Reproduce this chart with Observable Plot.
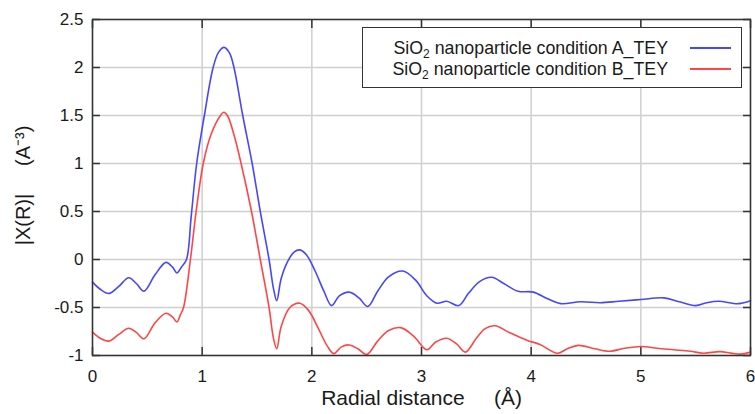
<!DOCTYPE html>
<html><head><meta charset="utf-8">
<script src="https://cdn.jsdelivr.net/npm/d3@7"></script>
<script src="https://cdn.jsdelivr.net/npm/@observablehq/plot@0.6"></script>
<style>
body{margin:0;background:#fff;font-family:"Liberation Sans",Arial,sans-serif;}
#wrap{position:relative;width:755px;height:414px;overflow:hidden;}
#legend{position:absolute;left:362px;top:27px;width:380px;height:61px;border:1.5px solid #333;background:#fff;box-sizing:border-box;font-size:17.8px;color:#1a1a1a;}
.row{position:absolute;right:10px;height:20px;display:flex;align-items:center;white-space:nowrap;}
.row span.sw{display:inline-block;width:41px;height:0;border-top:2px solid;margin-left:22px;}
sub{font-size:12px;vertical-align:-4px;line-height:0;}
</style></head>
<body><div id="wrap"></div>
<script>
const xTicks = [0, 1, 2, 3, 4, 5, 6];
const yTicks = [-1, -0.5, 0, 0.5, 1, 1.5, 2, 2.5];
const seriesNames = ["SiO2 nanoparticle condition A_TEY", "SiO2 nanoparticle condition B_TEY"];
const seriesColors = ["#4646ff", "#ff4646"];
const xA = [0,0.07,0.15,0.24,0.33,0.40,0.47,0.57,0.67,0.73,0.77,0.81,0.857,0.90,0.95,1.02,1.10,1.15,1.20,1.25,1.29,1.37,1.456,1.53,1.61,1.65,1.68,1.72,1.78,1.84,1.89,1.95,2.03,2.11,2.18,2.25,2.34,2.43,2.51,2.6,2.7,2.83,2.95,3.05,3.14,3.23,3.34,3.43,3.53,3.64,3.75,3.88,4.02,4.15,4.27,4.45,4.63,4.8,5.0,5.21,5.35,5.50,5.60,5.71,5.89,6.0];
const yA = [-0.236,-0.31,-0.354,-0.28,-0.19,-0.25,-0.33,-0.16,-0.03,-0.08,-0.14,-0.08,0,0.45,1.0,1.5,2.0,2.16,2.21,2.15,2.0,1.5,1.0,0.5,0,-0.3,-0.43,-0.2,-0.02,0.08,0.10,0.05,-0.12,-0.33,-0.48,-0.38,-0.34,-0.4,-0.49,-0.33,-0.18,-0.12,-0.22,-0.38,-0.455,-0.435,-0.48,-0.35,-0.23,-0.185,-0.25,-0.33,-0.34,-0.41,-0.46,-0.44,-0.45,-0.435,-0.417,-0.40,-0.44,-0.48,-0.45,-0.435,-0.46,-0.43];
const xB = [0,0.07,0.15,0.24,0.33,0.40,0.47,0.57,0.67,0.73,0.77,0.80,0.83,0.893,0.945,1.01,1.08,1.167,1.197,1.23,1.29,1.355,1.45,1.53,1.61,1.65,1.68,1.72,1.8,1.89,1.97,2.06,2.14,2.2,2.27,2.34,2.42,2.50,2.6,2.7,2.81,2.93,3.05,3.13,3.23,3.32,3.40,3.5,3.58,3.67,3.8,3.96,4.08,4.24,4.33,4.43,4.58,4.72,4.85,5.0,5.15,5.30,5.45,5.57,5.72,5.82,5.91,6.0];
const yB = [-0.757,-0.82,-0.85,-0.78,-0.716,-0.76,-0.826,-0.66,-0.56,-0.6,-0.65,-0.58,-0.5,0,0.5,1.0,1.3,1.5,1.534,1.5,1.3,1.0,0.5,0,-0.5,-0.82,-0.93,-0.7,-0.5,-0.455,-0.53,-0.72,-0.9,-0.98,-0.91,-0.89,-0.93,-0.99,-0.85,-0.74,-0.71,-0.8,-0.94,-0.86,-0.82,-0.88,-0.965,-0.82,-0.72,-0.69,-0.76,-0.84,-0.885,-0.976,-0.93,-0.895,-0.93,-0.955,-0.925,-0.906,-0.925,-0.94,-0.955,-0.976,-0.96,-0.975,-0.986,-0.965];
const xLabel = "Radial distance     (Å)";
const yLabel = "|X(R)|     (A⁻³)";

const dataA = xA.map((x, i) => ({x, y: yA[i]}));
const dataB = xB.map((x, i) => ({x, y: yB[i]}));
const fmt = d => String(d);
const tickStyle = {text: null, label: null, tickSize: 8, stroke: "#333", strokeWidth: 1.5};

const chart = Plot.plot({
  width: 755, height: 414,
  marginTop: 19, marginBottom: 59, marginLeft: 92, marginRight: 5,
  style: {fontFamily: "Liberation Sans, Arial, sans-serif", fontSize: "17px", color: "#1a1a1a", background: "#fff"},
  x: {domain: [0, 6], ticks: xTicks},
  y: {domain: [-1, 2.5], ticks: yTicks},
  marks: [
    Plot.gridX(xTicks, {stroke: "#cfcfcf", strokeOpacity: 1, strokeWidth: 1.5}),
    Plot.gridY(yTicks, {stroke: "#cfcfcf", strokeOpacity: 1, strokeWidth: 1.5}),
    Plot.axisX(xTicks, {anchor: "bottom", dy: -8, ...tickStyle}),
    Plot.axisX(xTicks, {anchor: "top", dy: 8, ...tickStyle}),
    Plot.axisY(yTicks, {anchor: "left", dx: 8, ...tickStyle}),
    Plot.axisY(yTicks, {anchor: "right", dx: -8, ...tickStyle}),
    Plot.axisX(xTicks, {anchor: "bottom", tickSize: 0, tickPadding: 14, tickFormat: fmt, label: null, fontSize: 17}),
    Plot.axisY(yTicks, {anchor: "left", tickSize: 0, tickPadding: 9, tickFormat: fmt, label: null, fontSize: 17}),
    Plot.line(dataA, {x: "x", y: "y", stroke: seriesColors[0], strokeWidth: 1.6, curve: "catmull-rom"}),
    Plot.line(dataB, {x: "x", y: "y", stroke: seriesColors[1], strokeWidth: 1.6, curve: "catmull-rom"}),
    Plot.frame({stroke: "#333", strokeWidth: 1.5}),
    Plot.text([yLabel], {text: d => d, frameAnchor: "left", textAnchor: "middle", lineAnchor: "middle", dx: -69, dy: -2, rotate: -90, fontSize: 20, fill: "#1a1a1a"}),
    Plot.text([xLabel], {text: d => d, frameAnchor: "bottom", textAnchor: "middle", dy: 49, fontSize: 21, fill: "#1a1a1a"})
  ]
});
const wrap = document.getElementById("wrap");
wrap.appendChild(chart);
const leg = document.createElement("div");
leg.id = "legend";
seriesNames.forEach((name, i) => {
  const row = document.createElement("div");
  row.className = "row";
  row.style.top = (10 + i * 21) + "px";
  const t = document.createElement("span");
  t.innerHTML = name.replace("SiO2", "SiO<sub>2</sub>");
  const sw = document.createElement("span");
  sw.className = "sw";
  sw.style.borderTopColor = seriesColors[i];
  row.appendChild(t); row.appendChild(sw);
  leg.appendChild(row);
});
wrap.appendChild(leg);
</script></body></html>
